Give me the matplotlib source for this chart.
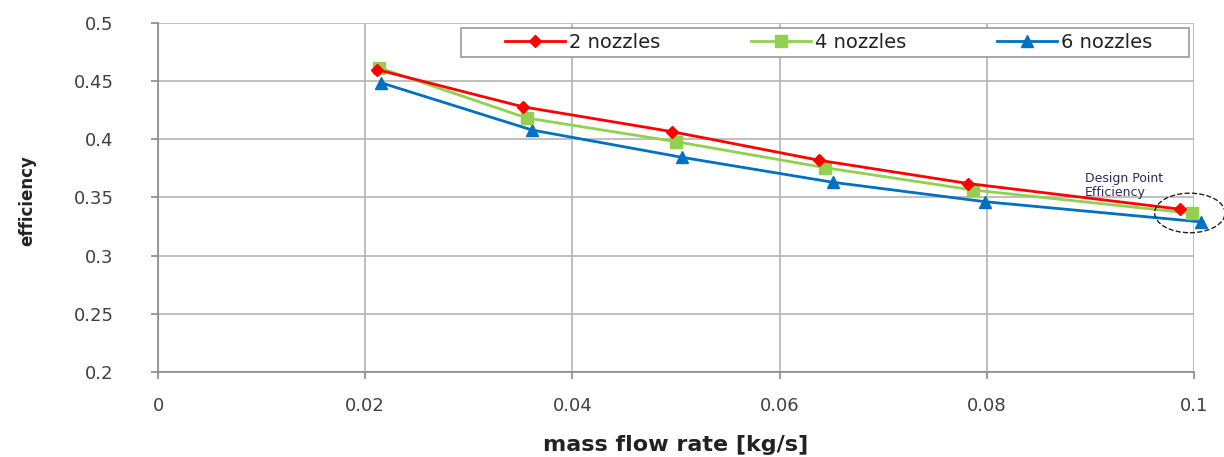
import matplotlib
matplotlib.use('Agg')
import matplotlib.pyplot as plt
from matplotlib.patches import Ellipse, Rectangle

# mass flow rate [kg/s] and efficiency for each nozzle count
flow_2 = [0.0211, 0.0352, 0.0496, 0.0638, 0.0782, 0.0986]
eff_2 = [0.460, 0.428, 0.4066, 0.382, 0.362, 0.340]
flow_4 = [0.0213, 0.0356, 0.0500, 0.0644, 0.0787, 0.0998]
eff_4 = [0.4616, 0.4183, 0.398, 0.3756, 0.3564, 0.3364]
flow_6 = [0.0215, 0.0361, 0.0506, 0.0652, 0.0798, 0.1007]
eff_6 = [0.4487, 0.408, 0.3845, 0.363, 0.3464, 0.329]

x_ticks = [0, 0.02, 0.04, 0.06, 0.08, 0.1]
x_labels = ['0', '0.02', '0.04', '0.06', '0.08', '0.1']
y_ticks = [0.2, 0.25, 0.3, 0.35, 0.4, 0.45, 0.5]
y_labels = ['0.2', '0.25', '0.3', '0.35', '0.4', '0.45', '0.5']

plt.rcParams['font.family'] = 'DejaVu Sans'

fig = plt.figure(figsize=(12.24, 4.57), dpi=100)
ax = fig.add_axes([0.1291, 0.186, 0.8464, 0.7637])

ax.plot(flow_2, eff_2, color='#FF0000', lw=2.0, marker='D', ms=6, label='2 nozzles', clip_on=False, zorder=4)
ax.plot(flow_4, eff_4, color='#92D050', lw=2.0, marker='s', ms=8, label='4 nozzles', clip_on=False, zorder=3)
ax.plot(flow_6, eff_6, color='#0070C0', lw=2.0, marker='^', ms=8, label='6 nozzles', clip_on=False, zorder=2)

ax.set_xlim(0, 0.1)
ax.set_ylim(0.2, 0.5)
ax.set_xticks(x_ticks)
ax.set_xticklabels(x_labels)
ax.set_yticks(y_ticks)
ax.set_yticklabels(y_labels)
ax.grid(True, color='#b4b4b4', lw=1.2)
ax.set_axisbelow(True)
for s in ['top', 'right']:
    ax.spines[s].set_visible(False)
for s in ['left', 'bottom']:
    ax.spines[s].set_color('#8a8a8a')
    ax.spines[s].set_linewidth(1.2)
ax.tick_params(direction='out', length=5, width=1.2, color='#8a8a8a',
               labelsize=13, labelcolor='#404040')
ax.tick_params(axis='y', pad=27)
ax.tick_params(axis='x', pad=13)

ax.set_xlabel('mass flow rate [kg/s]', fontsize=16, fontweight='bold', color='#222222', labelpad=14.5)
ax.set_ylabel('efficiency', fontsize=12, fontweight='bold', color='#222222')
ax.yaxis.set_label_coords(-0.118, 0.49)

# legend box drawn as in the source chart
ax.add_patch(Rectangle((0.2925, 0.903), 0.7025, 0.083, transform=ax.transAxes, facecolor='white',
                       edgecolor='#9a9a9a', lw=1.2, zorder=6, clip_on=False))
leg = ax.legend(loc='center', ncol=3, mode='expand', bbox_to_anchor=(0.327, 0.903, 0.64, 0.083),
                borderaxespad=0, frameon=False, fontsize=14, handlelength=3.1,
                handletextpad=0.2, columnspacing=1.0)
leg.set_zorder(7)
for t in leg.get_texts():
    t.set_color('#222222')

ax.add_patch(Ellipse((0.0996, 0.3367), 0.0068, 0.034, fill=False, ls='--', lw=1.0,
                     edgecolor='#222222', clip_on=False, zorder=5))
ax.text(0.0895, 0.372, 'Design Point\nEfficiency', fontsize=9, color='#2a2a5a',
        va='top', ha='left', linespacing=1.15, zorder=6)

fig.savefig('out.png', dpi=100)
